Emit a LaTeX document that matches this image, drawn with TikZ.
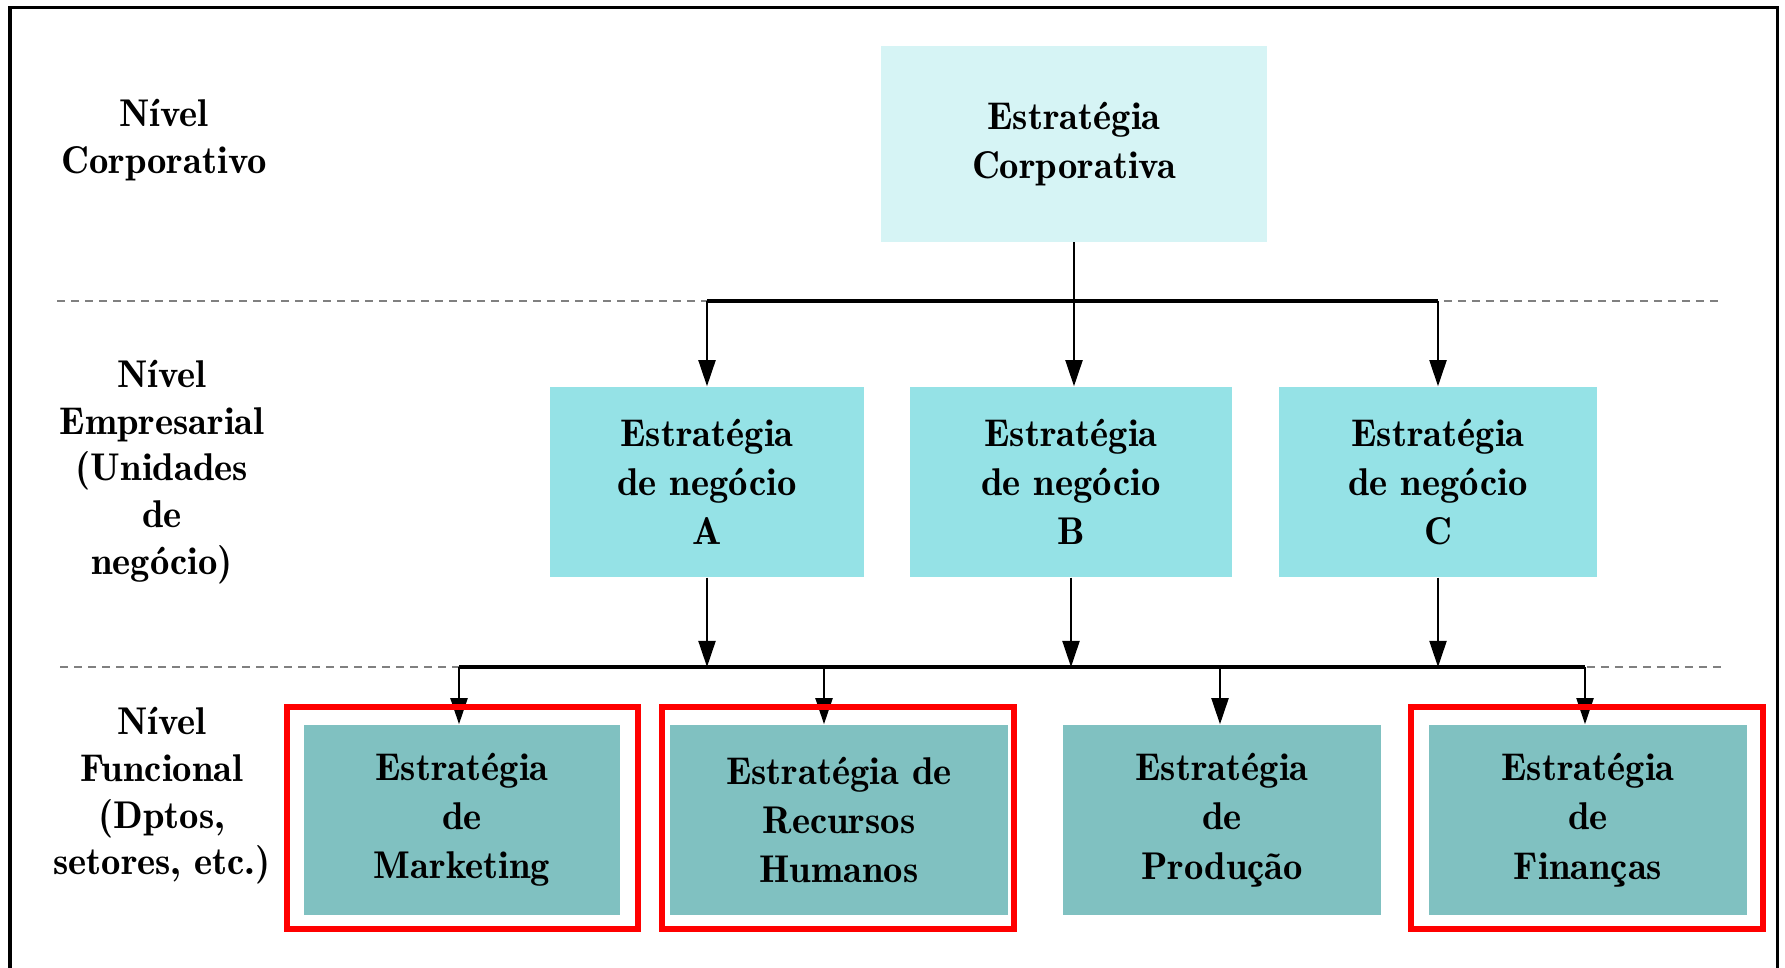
\documentclass[tikz,border=0pt]{standalone}
\usepackage{xcolor}
\usepackage{tikz}
\usetikzlibrary{arrows.meta}
\definecolor{corpfill}{HTML}{D6F4F5}
\definecolor{negfill}{HTML}{95E2E6}
\definecolor{funfill}{HTML}{80C1C1}
\definecolor{redline}{HTML}{FF0000}
\tikzset{
stratbox/.style={
  rectangle,
  inner sep=0pt,
  align=center,
  font=\fontsize{11}{14}\fontseries{b}\selectfont,
  minimum height=1.9cm
},
corpbox/.style={stratbox,fill=corpfill,minimum width=3.85cm,minimum height=1.95cm},
negbox/.style={stratbox,fill=negfill,minimum width=3.18cm},
funbox/.style={stratbox,fill=funfill,minimum width=3.17cm},
level/.style={align=center,font=\fontsize{11}{13.3}\fontseries{b}\selectfont},
arr/.style={line width=0.02cm,-{Triangle[width=0.17cm,length=0.26cm]}},
bus/.style={line width=0.035cm},
sep/.style={gray,line width=0.02cm,dash pattern=on 0.08cm off 0.06cm},
redframe/.style={draw=redline,line width=0.06cm},
}
\begin{document}
\begin{tikzpicture}[x=0.01cm,y=-0.01cm]
\clip (0,0) rectangle (1785,968);
\draw[line width=0.03cm] (10,1000) -- (10,8) -- (1777,8) -- (1777,1000);
% the levels
\node[level] (lvlcorp) at (164,140) {Nível\\Corporativo};
\node[level] (lvlemp) at (162,472) {Nível\\Empresarial\\(Unidades\\de\\negócio)};
\node[level] (lvlfun) at (162,796) {Nível\\Funcional\\(Dptos,\\setores, etc.)};
% the strategy boxes
\node[corpbox] (corp) at (1074,144) {Estratégia\\Corporativa};
\node[negbox,minimum width=3.14cm] (negA) at (707,482) {Estratégia\\de negócio\\A};
\node[negbox,minimum width=3.22cm] (negB) at (1071,482) {Estratégia\\de negócio\\B};
\node[negbox] (negC) at (1438,482) {Estratégia\\de negócio\\C};
\node[funbox,minimum width=3.16cm] (mkt) at (462,820) {Estratégia\\de\\Marketing};
\node[funbox,minimum width=3.38cm] (rh) at (839,820) {Estratégia de\\Recursos\\Humanos};
\node[funbox,minimum width=3.18cm] (prod) at (1222,820) {Estratégia\\de\\Produção};
\node[funbox] (fin) at (1588,820) {Estratégia\\de\\Finanças};
% the dashed rules
\draw[sep] (57,301) -- (1722,301);
\draw[sep] (60,667) -- (1722,667);
% the buses
\coordinate (bus1) at (0,301);
\coordinate (bus2) at (0,667);
\coordinate (tmkt) at (459,667);
\coordinate (trh) at (824,667);
\coordinate (tprod) at (1220,667);
\coordinate (tfin) at (1585,667);
\draw[bus] (negA.north |- bus1) -- (negC.north |- bus1);
\draw[bus] (tmkt) -- (tfin);
% the arrows
\draw[arr] (corp.south) -- (corp.south |- negB.north);
\foreach \n in {negA,negC}
{
  \draw[arr] (\n.north |- bus1) -- (\n.north);
}
\foreach \n in {negA,negB,negC}
{
  \draw[arr] (\n.south) -- (\n.south |- bus2);
}
\foreach \t/\n in {tmkt/mkt,trh/rh,tprod/prod,tfin/fin}
{
  \draw[arr] (\t) -- (\t |- \n.north);
}
% the red frames
\foreach \a/\b in {287/638,662/1014,1411/1763}
{
  \draw[redframe] (\a,707) rectangle (\b,929);
}
\end{tikzpicture}
\end{document}
